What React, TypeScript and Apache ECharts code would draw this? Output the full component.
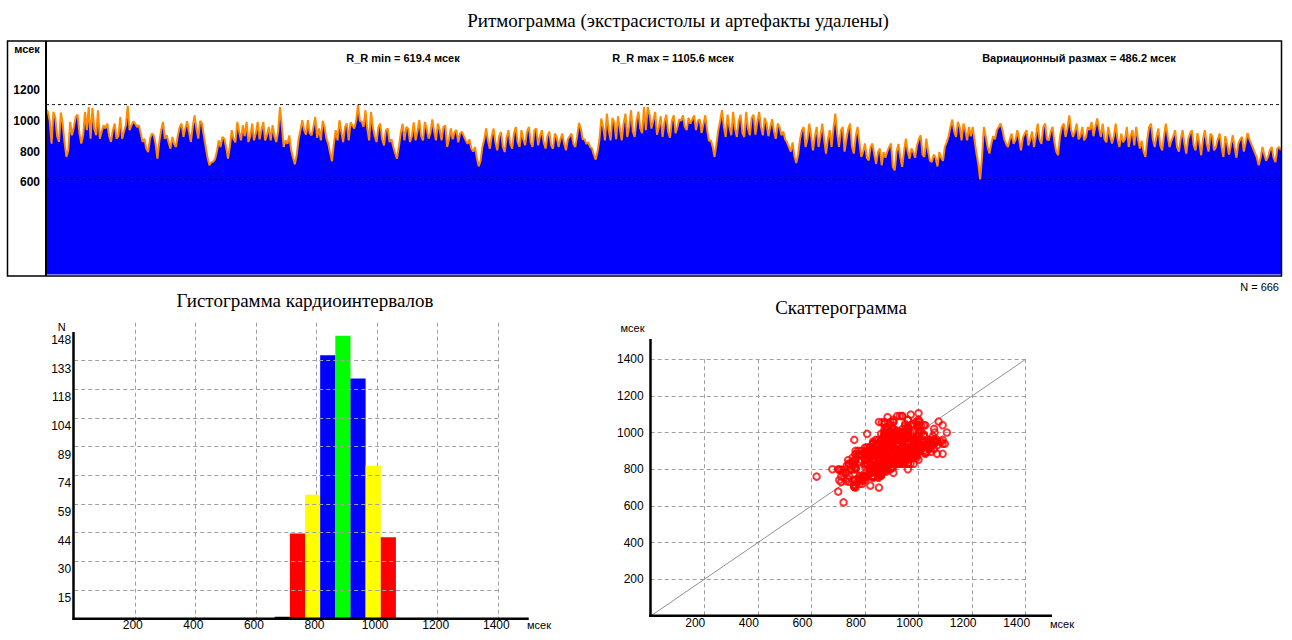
import React, { useEffect, useRef } from "react";
import * as echarts from "echarts";

// R-R intervals (msec), 666 beats
const rrValues: number[] = [
  1075, 1060, 1000, 852, 1058, 1020, 900, 863, 1054, 980,
  860, 765, 808, 993, 906, 960, 1025, 1040, 920, 852,
  906, 1058, 939, 1090, 884, 1084, 950, 906, 1069, 884,
  930, 971, 950, 982, 900, 863, 939, 982, 884, 900,
  1025, 884, 930, 971, 1098, 939, 970, 997, 982, 960,
  971, 920, 863, 884, 820, 797, 884, 917, 906, 850,
  754, 863, 940, 993, 884, 906, 860, 819, 895, 850,
  830, 906, 960, 982, 895, 950, 997, 928, 863, 960,
  1036, 950, 884, 1000, 982, 900, 830, 760, 711, 730,
  735, 750, 800, 873, 830, 895, 884, 830, 754, 830,
  939, 880, 860, 993, 930, 873, 971, 900, 993, 862,
  900, 982, 873, 920, 993, 880, 940, 993, 873, 910,
  960, 873, 971, 900, 862, 930, 1090, 960, 830, 873,
  850, 905, 810, 760, 717, 780, 880, 940, 1004, 939,
  910, 1004, 920, 906, 960, 1025, 890, 950, 873, 1000,
  960, 884, 850, 790, 737, 850, 940, 873, 1004, 930,
  862, 960, 982, 873, 990, 970, 950, 1000, 1105.6, 1000,
  995, 960, 1069, 950, 873, 1058, 960, 900, 862, 960,
  982, 880, 840, 939, 950, 862, 880, 830, 790, 754,
  830, 920, 982, 873, 960, 950, 862, 900, 990, 873,
  930, 1004, 900, 873, 993, 950, 884, 920, 1010, 930,
  873, 982, 940, 873, 960, 970, 830, 880, 950, 880,
  928, 940, 860, 920, 928, 900, 873, 850, 880, 820,
  800, 830, 760, 704, 740, 830, 880, 950, 870, 819,
  900, 950, 860, 808, 900, 928, 830, 797, 890, 939,
  850, 819, 920, 960, 860, 830, 939, 880, 841, 930,
  960, 860, 830, 940, 950, 840, 900, 939, 860, 820,
  900, 930, 841, 819, 917, 895, 830, 880, 917, 852,
  808, 880, 900, 917, 850, 830, 900, 986, 950, 880,
  880, 850, 860, 830, 820, 780, 748, 800, 880, 1015,
  960, 873, 1047, 940, 873, 1020, 990, 880, 1030, 950,
  873, 980, 1047, 895, 960, 1069, 930, 895, 1004, 1060,
  950, 920, 1090, 939, 1090, 1040, 950, 1000, 1058, 910,
  960, 1030, 895, 993, 1040, 930, 890, 1000, 1036, 920,
  960, 1010, 1000, 1036, 960, 940, 1020, 982, 1010, 1036,
  940, 1000, 1010, 920, 980, 1036, 940, 870, 873, 830,
  765, 850, 940, 1000, 1069, 960, 895, 1040, 960, 906,
  1058, 950, 895, 1000, 1040, 920, 895, 1058, 950, 906,
  1020, 1040, 910, 990, 1058, 960, 906, 1020, 982, 900,
  960, 1010, 930, 884, 982, 960, 906, 930, 880, 860,
  830, 800, 860, 770, 726, 780, 880, 939, 960, 830,
  880, 982, 900, 808, 900, 960, 830, 900, 982, 880,
  787, 880, 939, 830, 950, 1047, 920, 830, 939, 960,
  800, 880, 950, 982, 830, 787, 900, 960, 860, 765,
  800, 852, 760, 743, 830, 852, 780, 720, 798, 820,
  711, 797, 760, 800, 830, 852, 700, 678, 800, 850,
  765, 700, 800, 884, 800, 754, 820, 797, 760, 840,
  880, 906, 780, 765, 884, 800, 740, 732, 780, 760,
  704, 797, 760, 740, 830, 860, 900, 960, 1008, 930,
  895, 993, 960, 873, 982, 940, 873, 960, 900, 960,
  873, 790, 720, 619.4, 760, 960, 900, 830, 787, 850,
  900, 880, 940, 960, 982, 940, 880, 850, 830, 880,
  917, 850, 873, 939, 880, 808, 890, 917, 939, 840,
  880, 930, 830, 900, 982, 880, 850, 960, 982, 880,
  873, 930, 960, 860, 800, 776, 900, 960, 982, 895,
  950, 1036, 940, 895, 930, 982, 880, 900, 960, 873,
  895, 960, 940, 993, 900, 960, 1015, 950, 895, 982,
  880, 860, 960, 900, 852, 900, 982, 880, 830, 917,
  860, 880, 960, 830, 900, 939, 840, 960, 880, 820,
  870, 800, 765, 880, 960, 982, 880, 830, 900, 950,
  840, 808, 900, 982, 900, 830, 870, 900, 939, 830,
  800, 880, 939, 850, 787, 880, 917, 939, 840, 808,
  920, 860, 776, 880, 939, 850, 800, 917, 900, 808,
  830, 884, 917, 830, 765, 900, 850, 780, 840, 906,
  830, 760, 850, 880, 895, 800, 860, 921, 880, 850,
  820, 790, 760, 711, 760, 830, 780, 740, 765, 808,
  830, 760, 732, 820, 830, 808,
];

const rhythmYTicks = [600, 800, 1000, 1200];

// Histogram of cardio-intervals
const histBinStarts = [662, 712, 762, 812, 862, 912, 962, 1012];
const histBinWidth = 50;
const histCounts = [1, 44, 64, 136, 146, 124, 79, 42];
const histColors = ["#000000", "#ff0000", "#ffff00", "#0000ff", "#00ff00", "#0000ff", "#ffff00", "#ff0000"];
const histYTickLabels = [15, 30, 44, 59, 74, 89, 104, 118, 133, 148];
const histYStep = 14.8;
const histXTicks = [200, 400, 600, 800, 1000, 1200, 1400];

const scatterTicks = [200, 400, 600, 800, 1000, 1200, 1400];
const diagonal = [[0, 0], [1400, 1400]];

const SANS = '"Liberation Sans", Arial, sans-serif';
const SERIF = '"Liberation Serif", "Times New Roman", serif';

function txt(text: string, x: number, y: number, size: number, opts: any = {}) {
  const align = opts.align || "center";
  return {
    type: "text",
    x,
    y,
    z: 100,
    silent: true,
    style: {
      text,
      fill: "#000",
      fontSize: size,
      fontFamily: opts.family || SANS,
      fontWeight: opts.bold ? "bold" : "normal",
      align,
      textAlign: align,
      verticalAlign: "middle",
      textVerticalAlign: "middle",
    },
  };
}

function ln(x1: number, y1: number, x2: number, y2: number, w: number) {
  return {
    type: "line",
    z: 100,
    silent: true,
    shape: { x1, y1, x2, y2 },
    style: { stroke: "#000", lineWidth: w },
  };
}

export default function App() {
  const ref = useRef<HTMLDivElement>(null);

  useEffect(() => {
    if (!ref.current) return;
    const chart = echarts.init(ref.current, undefined, { renderer: "svg" });

    const rrMin = Math.min(...rrValues);
    const rrMax = Math.max(...rrValues);
    const scatterData = rrValues.slice(0, -1).map((v, i) => [v, rrValues[i + 1]]);
    const histData = histBinStarts.map((s, i) => [s, s + histBinWidth, histCounts[i]]);
    const histGridLines = histYTickLabels.slice(0, -1).map((_, k) => ({ yAxis: (k + 1) * histYStep }));

    const gridDash = { color: "#a0a0a0", type: [4, 3] as any, width: 1 };
    const smallLabel = { color: "#000", fontFamily: SANS, fontSize: 12 };
    const refLine = (level: number) => ({
      type: "line",
      xAxisIndex: 0,
      yAxisIndex: 0,
      data: rrValues.map(() => level),
      symbol: "none",
      showSymbol: false,
      silent: true,
      lineStyle: { color: "#000", type: [3, 3], width: 1 },
      z: 10,
    });

    const option: any = {
      animation: false,
      backgroundColor: "#fff",
      grid: [
        { left: 46, right: 11, top: 44, bottom: 365.5 },
        { left: 74.2, right: 793.7, top: 322.7, bottom: 21.3 },
        { left: 650.7, right: 266.3, top: 359.2, bottom: 24 },
      ],
      xAxis: [
        {
          gridIndex: 0,
          type: "category",
          data: rrValues.map((_, i) => i + 1),
          boundaryGap: false,
          show: false,
        },
        {
          gridIndex: 1,
          type: "value",
          min: 0,
          max: 1400,
          interval: 200,
          axisLine: { show: false },
          axisTick: { show: false },
          splitLine: { show: true, showMinLine: false, lineStyle: gridDash },
          axisLabel: {
            ...smallLabel,
            margin: 0,
            padding: [0, 4, 0, 0],
            formatter: (v: number) => (histXTicks.includes(v) ? String(v) : ""),
          },
        },
        {
          gridIndex: 2,
          type: "value",
          min: 0,
          max: 1400,
          interval: 200,
          axisLine: { show: false },
          axisTick: { show: false },
          splitLine: { show: true, showMinLine: false, lineStyle: gridDash },
          axisLabel: {
            ...smallLabel,
            margin: 1,
            padding: [0, 18, 0, 0],
            formatter: (v: number) => (scatterTicks.includes(v) ? String(v) : ""),
          },
        },
      ],
      yAxis: [
        {
          gridIndex: 0,
          type: "value",
          min: 0,
          max: 1500,
          interval: 200,
          axisLine: { show: false },
          axisTick: { show: false },
          splitLine: { show: false },
          axisLabel: {
            color: "#000",
            fontFamily: SANS,
            fontSize: 12,
            fontWeight: "bold",
            margin: 6,
            padding: [0, 0, 6, 0],
            formatter: (v: number) => (rhythmYTicks.includes(v) ? String(v) : ""),
          },
        },
        {
          gridIndex: 1,
          type: "value",
          min: 0,
          max: 152.8,
          interval: histYStep,
          axisLine: { show: false },
          axisTick: { show: false },
          splitLine: { show: false },
          axisLabel: {
            ...smallLabel,
            margin: 3,
            verticalAlign: "top",
            padding: [2, 0, 0, 0],
            formatter: (v: number) => {
              const k = Math.round(v / histYStep);
              if (k < 1 || k > histYTickLabels.length || Math.abs(v - k * histYStep) > 0.05) return "";
              return String(histYTickLabels[k - 1]);
            },
          },
        },
        {
          gridIndex: 2,
          type: "value",
          min: 0,
          max: 1400,
          interval: 200,
          axisLine: { show: false },
          axisTick: { show: false },
          splitLine: { show: true, showMinLine: false, lineStyle: gridDash },
          axisLabel: {
            ...smallLabel,
            margin: 7,
            padding: [8, 0, 0, 0],
            formatter: (v: number) => (scatterTicks.includes(v) ? String(v) : ""),
          },
        },
      ],
      series: [
        {
          type: "line",
          xAxisIndex: 0,
          yAxisIndex: 0,
          data: rrValues,
          showSymbol: false,
          symbol: "none",
          lineStyle: { color: "#ff8a00", width: 2 },
          areaStyle: { color: "#0000ff", opacity: 1 },
          z: 2,
        },
        refLine(rrMin),
        refLine(rrMax),
        {
          type: "line",
          xAxisIndex: 1,
          yAxisIndex: 1,
          data: [[0, 0]],
          symbol: "none",
          lineStyle: { width: 0 },
          silent: true,
          markLine: {
            silent: true,
            symbol: ["none", "none"],
            label: { show: false },
            lineStyle: gridDash,
            data: histGridLines,
          },
          z: 1,
        },
        {
          type: "custom",
          xAxisIndex: 1,
          yAxisIndex: 1,
          data: histData,
          encode: { x: [0, 1], y: 2 },
          renderItem: (params: any, api: any) => {
            const p0 = api.coord([api.value(0), api.value(2)]);
            const p1 = api.coord([api.value(1), 0]);
            return {
              type: "rect",
              shape: { x: p0[0], y: p0[1], width: p1[0] - p0[0], height: p1[1] - p0[1] },
              style: { fill: histColors[params.dataIndex] },
            };
          },
          z: 3,
        },
        {
          type: "line",
          xAxisIndex: 2,
          yAxisIndex: 2,
          data: diagonal,
          symbol: "none",
          lineStyle: { color: "#909090", width: 1 },
          silent: true,
          z: 2,
        },
        {
          type: "scatter",
          xAxisIndex: 2,
          yAxisIndex: 2,
          data: scatterData,
          symbol: "circle",
          symbolSize: 6.5,
          itemStyle: { color: "rgba(255,255,255,0)", borderColor: "#ff0000", borderWidth: 2 },
          silent: true,
          z: 3,
        },
      ],
      graphic: [
        // rhythmogram frame
        {
          type: "rect",
          z: 100,
          silent: true,
          shape: { x: 7.5, y: 41, width: 1274, height: 235 },
          style: { fill: "none", stroke: "#000", lineWidth: 1.5 },
        },
        ln(46, 41, 46, 276, 2),
        txt("Ритмограмма (экстрасистолы и артефакты удалены)", 678, 20, 19, { family: SERIF }),
        txt("мсек", 27, 49, 11, { bold: true }),
        txt(`R_R min = ${rrMin} мсек`, 403, 57.5, 11, { bold: true }),
        txt(`R_R max = ${rrMax} мсек`, 673, 57.5, 11, { bold: true }),
        txt(`Вариационный размах = ${(rrMax - rrMin).toFixed(1)} мсек`, 1079, 57.5, 11, { bold: true }),
        txt(`N = ${rrValues.length}`, 1279, 287, 11, { align: "right" }),
        // histogram
        txt("Гистограмма кардиоинтервалов", 305, 300.5, 19, { family: SERIF }),
        txt("N", 61.7, 326.5, 11),
        txt("мсек", 527, 625, 11, { align: "left" }),
        ln(73.5, 332, 73.5, 620, 2.5),
        ln(72.5, 618.7, 528.7, 618.7, 2.5),
        // scatter
        txt("Скаттерограмма", 841, 307.5, 19, { family: SERIF }),
        txt("мсек", 632.5, 328, 11),
        txt("мсек", 1050, 623.5, 11, { align: "left" }),
        ln(650.5, 339, 650.5, 617, 2.5),
        ln(649, 615.8, 1052, 615.8, 2.5),
      ],
    };

    chart.setOption(option);
    return () => chart.dispose();
  }, []);

  return (
    <div
      ref={ref}
      style={{ position: "fixed", left: 0, top: 0, width: 1292, height: 640, background: "#fff" }}
    />
  );
}
